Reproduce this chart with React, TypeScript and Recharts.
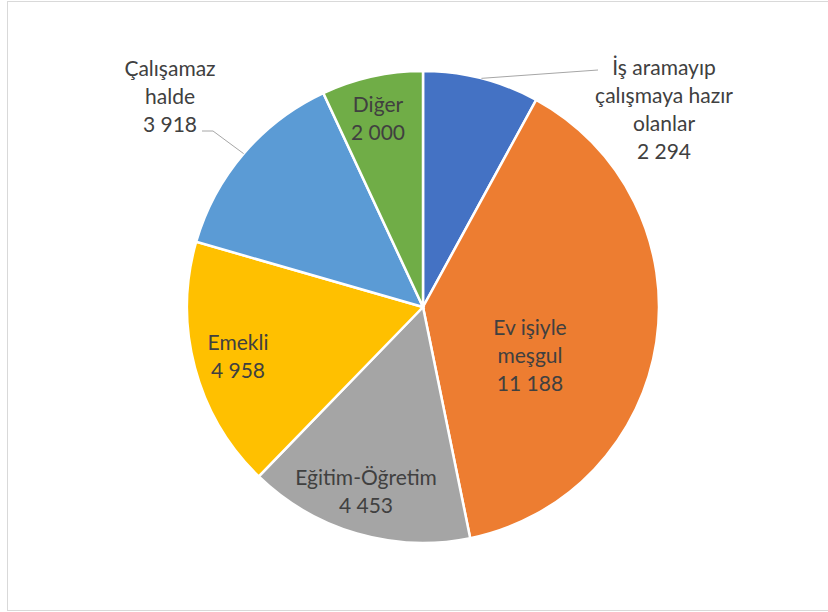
import { PieChart, Pie, Cell } from 'recharts'

const categories = [
  'İş aramayıp\nçalışmaya hazır\nolanlar',
  'Ev işiyle\nmeşgul',
  'Eğitim-Öğretim',
  'Emekli',
  'Çalışamaz\nhalde',
  'Diğer',
]
const values = [2294, 11188, 4453, 4958, 3918, 2000]
const colors = ['#4472C4', '#ED7D31', '#A5A5A5', '#FFC000', '#5B9BD5', '#70AD47']

const data = categories.map((name, i) => ({ name, value: values[i] }))

// label placement, relative to the pie centre (text centre x, first line centre y)
const labelPos = [
  { dx: 241, dy: -241, leader: [[175, -237]] },
  { dx: 107, dy: 19 },
  { dx: -57, dy: 169 },
  { dx: -185, dy: 34 },
  { dx: -253, dy: -240, leader: [[-210, -176], [-221, -176]] },
  { dx: -45, dy: -204 },
]

const RADIAN = Math.PI / 180
const LINE_H = 28

function fmt(v: number) {
  return String(v).replace(/\B(?=(\d{3})+(?!\d))/g, ' ')
}

function renderLabel(props: any) {
  const { cx, cy, midAngle, outerRadius, index, name, value } = props
  const pos = labelPos[index]
  const lines = [...String(name).split('\n'), fmt(value)]
  const x = cx + pos.dx
  const y0 = cy + pos.dy
  let leader = null
  if (pos.leader) {
    const sx = cx + outerRadius * Math.cos(-midAngle * RADIAN)
    const sy = cy + outerRadius * Math.sin(-midAngle * RADIAN)
    const pts = [[sx, sy], ...pos.leader.map(([a, b]) => [cx + a, cy + b])]
    leader = (
      <polyline
        points={pts.map((p) => p.join(',')).join(' ')}
        fill="none"
        stroke="#A6A6A6"
        strokeWidth={1}
      />
    )
  }
  return (
    <g key={'lbl' + index}>
      {leader}
      <text x={x} y={y0} textAnchor="middle" fill="#404040" fontSize={21} fontFamily="Lato, sans-serif">
        {lines.map((l, i) => (
          <tspan key={i} x={x} y={y0 + i * LINE_H} dominantBaseline="central">
            {l}
          </tspan>
        ))}
      </text>
    </g>
  )
}

export default function App() {
  return (
    <div style={{ position: 'fixed', left: 0, top: 0, width: 828, height: 612, background: '#fff' }}>
      <div style={{ position: 'absolute', left: 0, top: 0 }}>
        <PieChart width={828} height={612} margin={{ top: 0, right: 0, bottom: 0, left: 0 }}>
          <Pie
            data={data}
            dataKey="value"
            nameKey="name"
            cx={423}
            cy={307}
            outerRadius={236}
            startAngle={90}
            endAngle={-270}
            stroke="#FFFFFF"
            strokeWidth={2.5}
            label={renderLabel}
            labelLine={false}
            isAnimationActive={false}
          >
            {data.map((d, i) => (
              <Cell key={d.name} fill={colors[i]} />
            ))}
          </Pie>
        </PieChart>
      </div>
      <div
        style={{
          position: 'absolute',
          left: 7,
          top: 1,
          width: 820,
          height: 608,
          borderLeft: '1px solid #D9D9D9',
          borderTop: '1px solid #D9D9D9',
          borderBottom: '1px solid #D9D9D9',
          pointerEvents: 'none',
        }}
      />
    </div>
  )
}
